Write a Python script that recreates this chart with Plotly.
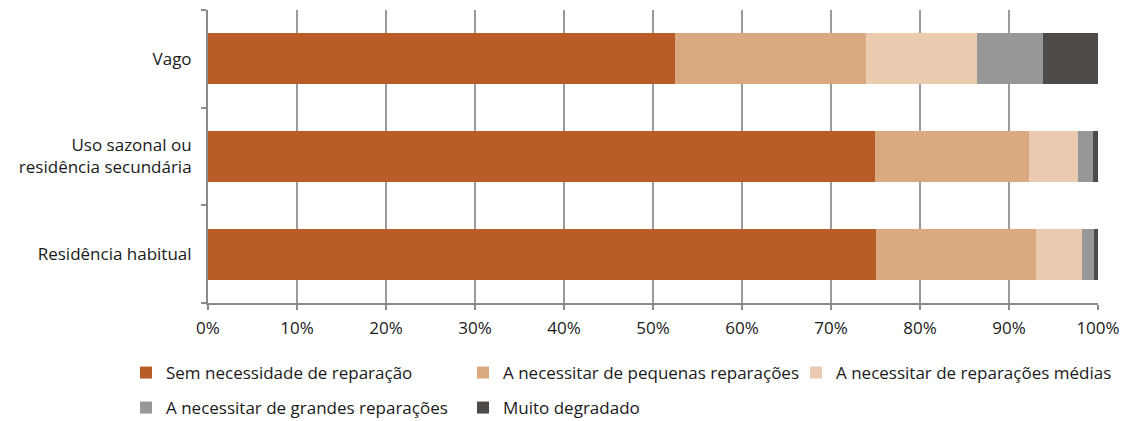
import plotly.graph_objects as go

categories = ["Residência habitual", "Uso sazonal ou<br>residência secundária", "Vago"]
series_names = [
    "Sem necessidade de reparação",
    "A necessitar de pequenas reparações",
    "A necessitar de reparações médias",
    "A necessitar de grandes reparações",
    "Muito degradado",
]
sem_reparacao = [75.1, 74.9, 52.5]
pequenas = [17.9, 17.3, 21.4]
medias = [5.2, 5.5, 12.5]
grandes = [1.4, 1.7, 7.4]
degradado = [0.4, 0.6, 6.2]
x_ticks = [0, 10, 20, 30, 40, 50, 60, 70, 80, 90, 100]

values = [sem_reparacao, pequenas, medias, grandes, degradado]
colors = ["#B85C28", "#DBA97F", "#EBCBB0", "#979797", "#4D4A47"]
legend_ids = ["legend", "legend2", "legend3", "legend4", "legend5"]
# legend placement (text start x, row centre y) in pixels
legend_pos = [(166, 373), (503, 373), (836, 373), (166, 408), (503, 408)]

W, H = 1126, 421
FONT = "Open Sans"
FS = 17
fig = go.Figure()
for name, vals, col, lg in zip(series_names, values, colors, legend_ids):
    fig.add_trace(go.Bar(
        y=categories, x=vals, name=name, orientation="h",
        marker=dict(color=col, line=dict(width=0)),
        legend=lg,
    ))

legend_layout = {}
for lg, (tx, ty) in zip(legend_ids, legend_pos):
    legend_layout[lg] = dict(
        orientation="h", xref="container", yref="container",
        x=(tx - 40) / W, y=1 - ty / H, xanchor="left", yanchor="middle",
        itemwidth=30, font=dict(family=FONT, size=FS, color="#1a1a1a"),
        bgcolor="rgba(0,0,0,0)",
    )

fig.update_layout(
    barmode="stack",
    bargap=0.48,
    width=W, height=H,
    margin=dict(l=208, r=28, t=10, b=118, autoexpand=False),
    plot_bgcolor="white", paper_bgcolor="white",
    font=dict(family=FONT, size=FS, color="#1a1a1a"),
    showlegend=True,
    **legend_layout,
)
fig.update_xaxes(
    range=[0, 100], tickvals=x_ticks, ticktext=[f"{v}%" for v in x_ticks],
    showgrid=True, gridcolor="#9a9a9a", gridwidth=1.5,
    showline=True, linecolor="#8a8a8a", linewidth=2,
    ticks="outside", ticklen=5, tickcolor="#8a8a8a", tickwidth=1.5,
    zeroline=False, fixedrange=True, ticklabelstandoff=4, automargin=False,
)
fig.update_yaxes(
    showline=True, linecolor="#8a8a8a", linewidth=2,
    ticks="outside", ticklen=5, tickcolor="#8a8a8a", tickwidth=1.5,
    tickson="boundaries", showgrid=False, zeroline=False,
    ticklabelstandoff=11, automargin=False,
)

fig.write_html("out.html")
